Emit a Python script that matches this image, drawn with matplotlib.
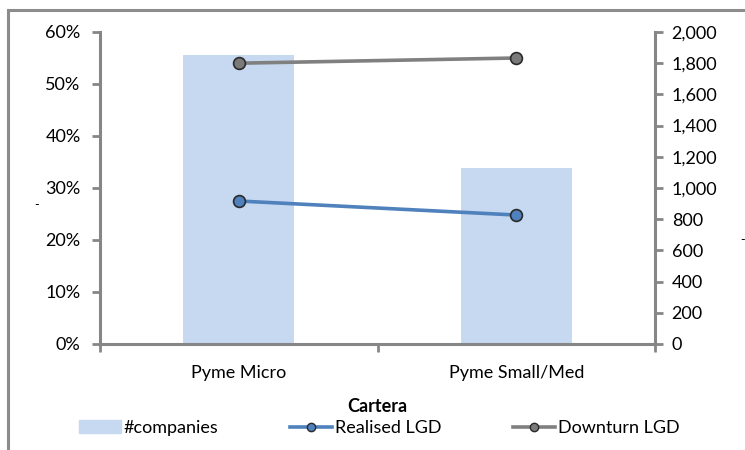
import matplotlib.pyplot as plt
from matplotlib.patches import Rectangle
from matplotlib.lines import Line2D
from matplotlib.ticker import FuncFormatter, MultipleLocator
import numpy as np

plt.rcParams['font.family'] = ['Lato', 'DejaVu Sans']
plt.rcParams['font.size'] = 13

# data
categories = ['Pyme Micro', 'Pyme Small/Med']
companies = [1850, 1130]
realised_lgd = [0.275, 0.248]
downturn_lgd = [0.540, 0.550]

bar_col = '#C6D9F1'
blue = '#4F81BD'
grey = '#808080'
axis_col = '#868686'

fig = plt.figure(figsize=(7.45, 4.5), dpi=100)
fig.patches.append(Rectangle((8 / 745, -0.1), 1.2, 1 - 10 / 450 + 0.1,
                             transform=fig.transFigure, fill=False,
                             edgecolor='#8c8c8c', linewidth=2.2))

ax = fig.add_axes([100 / 745, 1 - 344 / 450, 555 / 745, 312 / 450])
ax2 = ax.twinx()

x = np.arange(len(categories))
ax2.bar(x, companies, width=0.4, color=bar_col, zorder=1)
ax.plot(x, realised_lgd, color=blue, lw=2.6, marker='o', ms=8.5,
        mfc=blue, mec='#2a2a2a', mew=1.2, zorder=5)
ax.plot(x, downturn_lgd, color=grey, lw=2.6, marker='o', ms=8.5,
        mfc='#7a7a7a', mec='#2a2a2a', mew=1.2, zorder=5)

# line axes drawn over the bar axes
ax.set_zorder(ax2.get_zorder() + 1)
ax.patch.set_visible(False)

ax.set_xlim(-0.5, 1.5)
ax.set_ylim(0, 0.6)
ax2.set_ylim(0, 2000)
ax.yaxis.set_major_locator(MultipleLocator(0.1))
ax.yaxis.set_major_formatter(FuncFormatter(lambda v, p: f'{v * 100:.0f}%'))
ax2.yaxis.set_major_locator(MultipleLocator(200))
ax2.yaxis.set_major_formatter(FuncFormatter(lambda v, p: f'{v:,.0f}'))

ax.set_xticks(x)
ax.set_xticklabels(categories)
ax.set_xticks([-0.5, 0.5, 1.5], minor=True)
ax.tick_params(axis='x', which='major', length=0, pad=15)
ax.tick_params(axis='x', which='minor', length=6, width=2, color=axis_col)
ax.tick_params(axis='y', length=6, width=2, color=axis_col, pad=8)
ax2.tick_params(axis='y', length=6, width=2, color=axis_col, pad=6)

for a in (ax, ax2):
    a.spines['top'].set_visible(False)
    for s in ('left', 'right', 'bottom'):
        a.spines[s].set_color(axis_col)
        a.spines[s].set_linewidth(2.2)
ax.spines['right'].set_visible(False)
ax2.spines['left'].set_visible(False)
ax2.spines['bottom'].set_visible(False)

ax.set_xlabel('Cartera', fontweight='bold', labelpad=12)

# empty axis-title placeholders in the original
fig.text(37 / 745, 1 - 205 / 450, '-', ha='center', va='center', fontsize=9)
fig.text(743 / 745, 1 - 240 / 450, '-', ha='center', va='center', fontsize=9)

handles = [
    Rectangle((0, 0), 1, 1, color=bar_col),
    Line2D([], [], color=blue, lw=2.6, marker='o', ms=6, mfc=blue, mec='#2a2a2a'),
    Line2D([], [], color=grey, lw=2.6, marker='o', ms=6, mfc='#7a7a7a', mec='#2a2a2a'),
]
fig.legend(handles, ['#companies', 'Realised LGD', 'Downturn LGD'],
           loc='center left', bbox_to_anchor=(63 / 745, 1 - 428 / 450), ncol=3,
           frameon=False, handlelength=2.3, handletextpad=0.15,
           columnspacing=4.0)

fig.savefig('out.png', dpi=100)
